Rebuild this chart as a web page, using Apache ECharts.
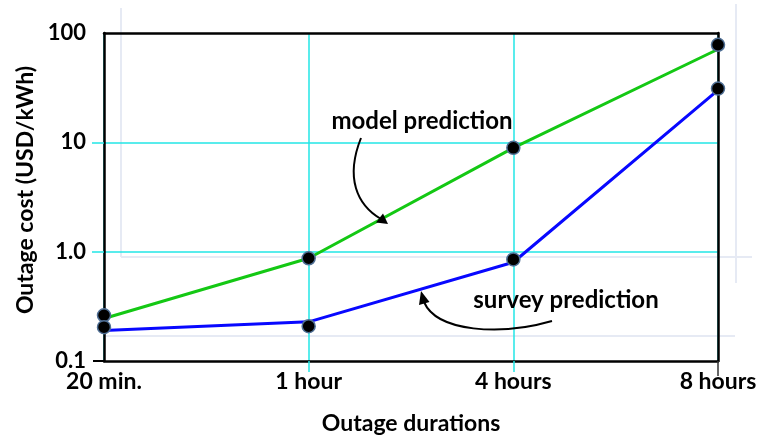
<!DOCTYPE html>
<html>
<head>
<meta charset="utf-8">
<script src="https://cdn.jsdelivr.net/npm/echarts@6/dist/echarts.min.js"></script>
<style>html,body{margin:0;padding:0;background:#fff}#c{width:769px;height:440px}</style>
</head>
<body>
<div id="c"></div>
<script>
// ---- data ----
var categories = ['20 min.', '1 hour', '4 hours', '8 hours'];
var modelLine = [0.245, 0.87, 8.9, 71];
var surveyLine = [0.19, 0.228, 0.8, 30];
var modelPoints = [0.262, 0.87, 8.9, 78];
var surveyPoints = [0.204, 0.208, 0.85, 31];
var yTickLabels = ['0.1', '1.0', '10', '100'];
var yName = 'Outage cost (USD/kWh)';
var xName = 'Outage durations';
var modelLabel = 'model prediction';
var surveyLabel = 'survey prediction';

var FONT = 'Lato';
var chart = echarts.init(document.getElementById('c'), null, {renderer: 'canvas'});

var dotStyle = {color: '#000', borderColor: '#4f6f95', borderWidth: 1.5, opacity: 1};
var faint = {stroke: '#e6eaf4', lineWidth: 2};

chart.setOption({
  animation: false,
  backgroundColor: '#fff',
  grid: {left: 104, right: 51, top: 33, bottom: 78, containLabel: false},
  xAxis: [{
    type: 'category', data: categories, boundaryGap: false,
    axisLine: {show: true, lineStyle: {color: '#000', width: 2.5}},
    axisTick: {show: true, length: 11, interval: function (i) { return i === 1 || i === 2; },
      lineStyle: {color: '#22e6e6', width: 1.5}},
    splitLine: {show: true, interval: 0, lineStyle: {color: '#22e6e6', width: 1.5}},
    axisLabel: {color: '#000', fontFamily: FONT, fontWeight: 'bold', fontSize: 23, margin: 9,
      interval: 0},
    name: xName, nameLocation: 'middle', nameGap: 51,
    nameTextStyle: {color: '#000', fontFamily: FONT, fontWeight: 'bold', fontSize: 23}
  }, {
    type: 'category', data: categories, boundaryGap: false, position: 'top',
    axisLine: {show: true, lineStyle: {color: '#000', width: 2.5}},
    axisTick: {show: false}, axisLabel: {show: false}, splitLine: {show: false}
  }, {
    type: 'category', data: categories, boundaryGap: false, position: 'bottom',
    axisLine: {show: false},
    axisTick: {show: true, length: 15, interval: function (i) { return i === 3; },
      lineStyle: {color: '#333', width: 1.5}},
    axisLabel: {show: false}, splitLine: {show: false}
  }],
  yAxis: [{
    type: 'log', logBase: 10, min: 0.1, max: 100,
    axisLine: {show: true, lineStyle: {color: '#000', width: 2.5}},
    axisTick: {show: true, length: 12, customValues: [1, 10], lineStyle: {color: '#22e6e6', width: 1.5}},
    splitLine: {show: true, lineStyle: {color: '#22e6e6', width: 1.5}},
    axisLabel: {color: '#000', fontFamily: FONT, fontWeight: 'bold', fontSize: 22, margin: 18,
      formatter: function (v) { return yTickLabels[Math.round(Math.log10(v)) + 1]; }},
    name: yName, nameLocation: 'middle', nameGap: 64,
    nameTextStyle: {color: '#000', fontFamily: FONT, fontWeight: 'bold', fontSize: 23, padding: [0, 0, 0, 14]}
  }, {
    type: 'log', logBase: 10, min: 0.1, max: 100, position: 'right',
    axisLine: {show: true, lineStyle: {color: '#000', width: 2.5}},
    axisTick: {show: false}, axisLabel: {show: false}, splitLine: {show: false}
  }, {
    type: 'log', logBase: 10, min: 0.1, max: 100, position: 'left', offset: 0,
    axisLine: {show: false},
    axisTick: {show: true, length: 11, customValues: [0.1], lineStyle: {color: '#000', width: 2}},
    axisLabel: {show: false}, splitLine: {show: false}
  }],
  series: [{
    name: modelLabel, type: 'line', data: modelLine, showSymbol: false, z: 3,
    lineStyle: {color: '#14c814', width: 3}
  }, {
    name: surveyLabel, type: 'line', data: surveyLine, showSymbol: false, z: 3,
    lineStyle: {color: '#0808ff', width: 3}
  }, {
    type: 'scatter', data: modelPoints, symbol: 'circle', symbolSize: 13, z: 4,
    itemStyle: dotStyle
  }, {
    type: 'scatter', data: surveyPoints, symbol: 'circle', symbolSize: 13, z: 4,
    itemStyle: dotStyle
  }],
  graphic: [
    {type: 'line', z: 0, silent: true, shape: {x1: 121, y1: 8, x2: 121, y2: 257}, style: faint},
    {type: 'line', z: 0, silent: true, shape: {x1: 121, y1: 257, x2: 752, y2: 257}, style: faint},
    {type: 'line', z: 0, silent: true, shape: {x1: 104, y1: 336, x2: 735, y2: 336}, style: faint},
    {type: 'line', z: 0, silent: true, shape: {x1: 736, y1: 4, x2: 736, y2: 283}, style: faint},
    {type: 'text', z: 10, style: {text: modelLabel, x: 422, y: 121, align: 'center', verticalAlign: 'middle',
      font: 'bold 24px ' + FONT, fill: '#000'}},
    {type: 'text', z: 10, style: {text: surveyLabel, x: 566, y: 300, align: 'center', verticalAlign: 'middle',
      font: 'bold 24px ' + FONT, fill: '#000'}},
    {type: 'bezierCurve', z: 10, shape: {x1: 361, y1: 138, cpx1: 345, cpy1: 178, cpx2: 357, cpy2: 205, x2: 381, y2: 219},
      style: {stroke: '#000', lineWidth: 2, fill: null}},
    {type: 'polygon', z: 10, shape: {points: [[388, 224], [376, 222.5], [383, 213.5]]}, style: {fill: '#000'}},
    {type: 'bezierCurve', z: 10, shape: {x1: 552, y1: 321, cpx1: 500, cpy1: 336, cpx2: 437, cpy2: 332, x2: 424, y2: 302},
      style: {stroke: '#000', lineWidth: 2, fill: null}},
    {type: 'polygon', z: 10, shape: {points: [[421, 291], [429.5, 302], [419, 305]]}, style: {fill: '#000'}}
  ]
});
</script>
</body>
</html>
